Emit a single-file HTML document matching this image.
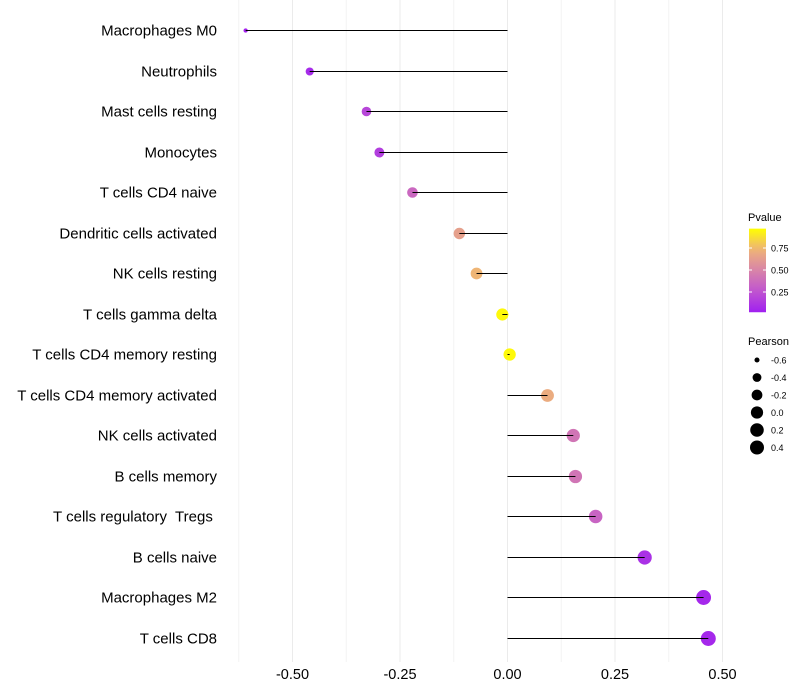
<!DOCTYPE html>
<html><head><meta charset="utf-8"><style>
body{margin:0;background:#fff;font-family:"Liberation Sans",sans-serif}
</style></head><body>
<svg id="chart" width="800" height="700" style="display:block"></svg>
<script>
const categories=["Macrophages M0","Neutrophils","Mast cells resting","Monocytes","T cells CD4 naive","Dendritic cells activated","NK cells resting","T cells gamma delta","T cells CD4 memory resting","T cells CD4 memory activated","NK cells activated","B cells memory","T cells regulatory  Tregs ","B cells naive","Macrophages M2","T cells CD8"];
const pearson=[-0.609,-0.460,-0.328,-0.298,-0.221,-0.112,-0.072,-0.012,0.005,0.093,0.153,0.158,0.205,0.319,0.456,0.467];
const pvalue=[0.02,0.05,0.18,0.14,0.35,0.65,0.76,0.98,0.98,0.72,0.42,0.42,0.33,0.08,0.04,0.04];
const xTicks=[-0.5,-0.25,0,0.25,0.5];
const xTickLabels=["-0.50","-0.25","0.00","0.25","0.50"];
const cbTicks=[0.25,0.5,0.75];
const sizeLegend=[-0.6,-0.4,-0.2,0.0,0.2,0.4];
const NS="http://www.w3.org/2000/svg";
const svg=document.getElementById('chart');
function X(v){return 507.5+v*430;}
function Y(i){return Math.round(30+i*40.5)+0.5;}
function R(v){return 2+5.5*Math.sqrt(Math.max(0,(v+0.61)/1.08));}
function CY(p){return 314-p*88;}
const stops=[[0,[160,32,240]],[0.25,[192,85,208]],[0.5,[216,132,168]],[0.75,[238,178,122]],[1,[255,255,0]]];
function col(p){for(let k=1;k<stops.length;k++){if(p<=stops[k][0]){const a=stops[k-1],b=stops[k];const t=(p-a[0])/(b[0]-a[0]);const c=a[1].map((v,j)=>Math.round(v+(b[1][j]-v)*t));return `rgb(${c})`;}}return 'rgb(255,255,0)';}
function el(t,a,p){const e=document.createElementNS(NS,t);for(const k in a)e.setAttribute(k,a[k]);(p||svg).appendChild(e);return e;}
for(let v=-0.625;v<=0.51;v+=0.125){
 const g=el('line',{x1:X(v),x2:X(v),y1:0,y2:662,stroke:Math.abs((v*4)-Math.round(v*4))<0.01?'#ebebeb':'#f4f4f4','stroke-width':1});
 
 
}
xTicks.forEach((v,i)=>{
 const t=el('text',{x:X(v),y:679,'text-anchor':'middle','font-size':14.5,fill:'#000'});t.textContent=xTickLabels[i];
 
 
});
categories.forEach((c,i)=>{
 const t=el('text',{x:217,y:Y(i)+5,'text-anchor':'end','font-size':15,fill:'#000'});t.textContent=c;
 t.setAttribute('xml:space','preserve');
 t.style.whiteSpace='pre';
 
 
 const d=el('circle',{cx:X(pearson[i]),cy:Y(i),r:R(pearson[i]),fill:col(pvalue[i])});
 
 
 const l=el('line',{x1:X(0),x2:X(pearson[i]),y1:Y(i),y2:Y(i),stroke:'#000','stroke-width':1});
 
 
});
const defs=el('defs',{});
const lg=el('linearGradient',{id:'cb',x1:0,y1:1,x2:0,y2:0},defs);
for(let k=0;k<=10;k++){el('stop',{offset:k/10,'stop-color':col(k/10)},lg);}
const tt=el('text',{x:748,y:221,'font-size':11,fill:'#000'});tt.textContent='Pvalue';


const cb=el('rect',{x:749,y:CY(0.97),width:17,height:CY(0.02)-CY(0.97),fill:'url(#cb)'});


cbTicks.forEach(v=>{
 el('line',{x1:749,x2:752,y1:CY(v),y2:CY(v),stroke:'#fff'});el('line',{x1:763,x2:766,y1:CY(v),y2:CY(v),stroke:'#fff'});
 const t=el('text',{x:771,y:CY(v)+3.5,'font-size':9,fill:'#000'});t.textContent=v.toFixed(2);
 
 
});
const st=el('text',{x:748,y:345,'font-size':11,fill:'#000'});st.textContent='Pearson';


sizeLegend.forEach((v,i)=>{
 const y=360+i*17.5;
 const c=el('circle',{cx:757,cy:y,r:Math.min(R(v),7),fill:'#000'});
 
 
 const t=el('text',{x:771,y:y+3.5,'font-size':9,fill:'#000'});t.textContent=v.toFixed(1);
 
 
});
</script>
</body></html>
